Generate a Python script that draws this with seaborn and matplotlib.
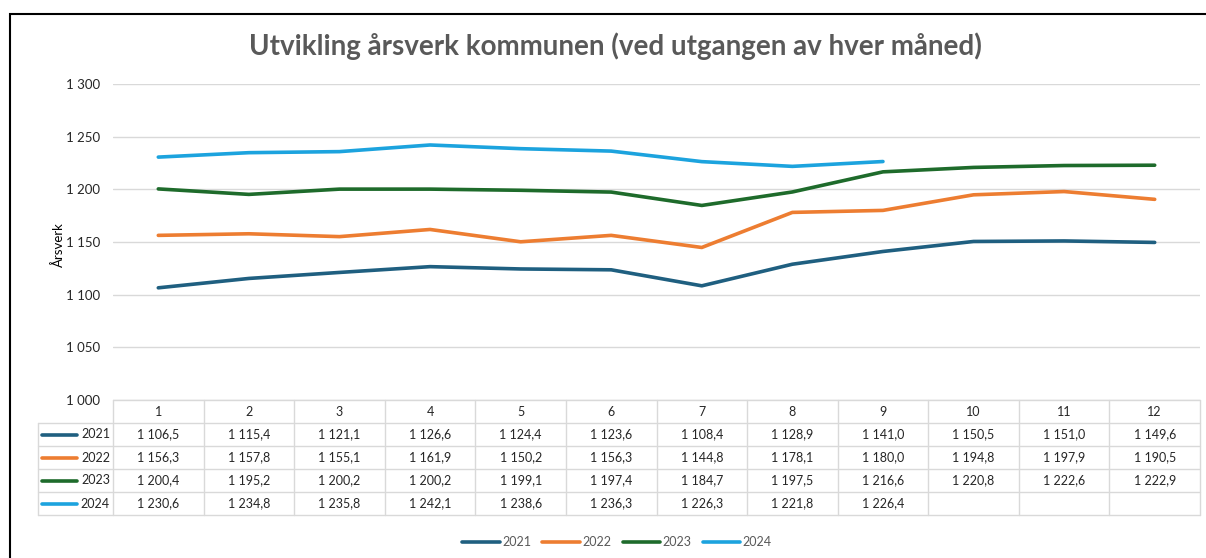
import numpy as np
import pandas as pd
import matplotlib
matplotlib.use("Agg")
import matplotlib.pyplot as plt
import seaborn as sns
from matplotlib.lines import Line2D
from matplotlib.patches import Rectangle
from matplotlib.transforms import blended_transform_factory

months = list(range(1, 13))
years = ["2021", "2022", "2023", "2024"]
v2021 = [1106.5, 1115.4, 1121.1, 1126.6, 1124.4, 1123.6, 1108.4, 1128.9, 1141.0, 1150.5, 1151.0, 1149.6]
v2022 = [1156.3, 1157.8, 1155.1, 1161.9, 1150.2, 1156.3, 1144.8, 1178.1, 1180.0, 1194.8, 1197.9, 1190.5]
v2023 = [1200.4, 1195.2, 1200.2, 1200.2, 1199.1, 1197.4, 1184.7, 1197.5, 1216.6, 1220.8, 1222.6, 1222.9]
v2024 = [1230.6, 1234.8, 1235.8, 1242.1, 1238.6, 1236.3, 1226.3, 1221.8, 1226.4, np.nan, np.nan, np.nan]
colors = ["#1F5F80", "#ED7D31", "#1E6B2B", "#1CA3DE"]

title = "Utvikling årsverk kommunen (ved utgangen av hver måned)"
ylabel = "Årsverk"

series = dict(zip(years, [v2021, v2022, v2023, v2024]))
df = pd.DataFrame(
    [(y, m, v) for y, vals in series.items() for m, v in zip(months, vals)],
    columns=["year", "month", "value"],
).dropna()

sns.set_style("white")
plt.rcParams["font.family"] = ["Lato", "DejaVu Sans"]

W, H = 1206, 558
fig = plt.figure(figsize=(W / 100, H / 100), dpi=100)


def fx(px):
    return px / W


def fy(py):
    return 1 - py / H


left, right, top, bottom = 113, 1200, 84, 400
ax = fig.add_axes([fx(left), fy(bottom), fx(right - left), (bottom - top) / H])

sns.lineplot(data=df, x="month", y="value", hue="year", palette=colors,
             linewidth=2.6, ax=ax, legend=False)

ax.set_xlim(0.5, 12.5)
ax.set_ylim(1000, 1300)
ax.set_yticks(np.arange(1000, 1301, 50))
ax.set_yticklabels([f"{t:,}".replace(",", " ") for t in np.arange(1000, 1301, 50)],
                   fontsize=9.5, color="#262626")
ax.set_xticks([])
ax.tick_params(axis="y", length=0, pad=9)
ax.grid(axis="y", color="#D9D9D9", linewidth=1)
for s in ax.spines.values():
    s.set_visible(False)
ax.set_xlabel("")
ax.set_ylabel("")
fig.text(fx(58), fy(245), ylabel, rotation=90, ha="center", va="center",
         fontsize=9.5, color="#000000")

fig.text(fx(615), fy(46), title, ha="center", va="center", fontsize=20,
         fontweight="bold", color="#595959")

# data table below the plot
tr = blended_transform_factory(ax.transData, fig.transFigure)
grid_c = "#D9D9D9"
row_h = 23
rows_y = [bottom + row_h * i for i in range(6)]
lab_left = 38

fig.add_artist(Line2D([fx(left), fx(right)], [fy(rows_y[0])] * 2, color=grid_c, lw=1))
for yy in rows_y[1:]:
    fig.add_artist(Line2D([fx(lab_left), fx(right)], [fy(yy)] * 2, color=grid_c, lw=1))
for m in [0.5] + [m + 0.5 for m in months]:
    fig.add_artist(Line2D([m, m], [fy(rows_y[0]), fy(rows_y[-1])], color=grid_c,
                          lw=1, transform=tr))
fig.add_artist(Line2D([fx(lab_left)] * 2, [fy(rows_y[1]), fy(rows_y[-1])], color=grid_c, lw=1))

for m in months:
    fig.text(m, fy(rows_y[0] + row_h / 2), str(m), transform=tr, ha="center",
             va="center", fontsize=9, color="#262626")


def fmt(v):
    return f"{v:,.1f}".replace(",", " ").replace(".", ",")


for i, (yr, col) in enumerate(zip(years, colors)):
    yc = fy(rows_y[i + 1] + row_h / 2)
    fig.add_artist(Line2D([fx(42), fx(77)], [yc, yc], color=col, lw=2.6,
                          solid_capstyle="round"))
    fig.text(fx(110), yc, yr, ha="right", va="center", fontsize=9, color="#262626")
    for m, v in zip(months, series[yr]):
        if not np.isnan(v):
            fig.text(m, yc, fmt(v), transform=tr, ha="center", va="center",
                     fontsize=9, color="#262626")

handles = [Line2D([], [], color=c, lw=2.6) for c in colors]
fig.legend(handles, years, loc="center", bbox_to_anchor=(fx(617), fy(542)),
           ncol=4, frameon=False, fontsize=9, handlelength=3.0, handletextpad=0.2,
           columnspacing=0.9, labelcolor="#595959")

fig.add_artist(Rectangle((fx(10), fy(600)), fx(1220), (600 - 14) / H, fill=False,
                         edgecolor="black", linewidth=1.5))

fig.savefig("out.png", dpi=100)
